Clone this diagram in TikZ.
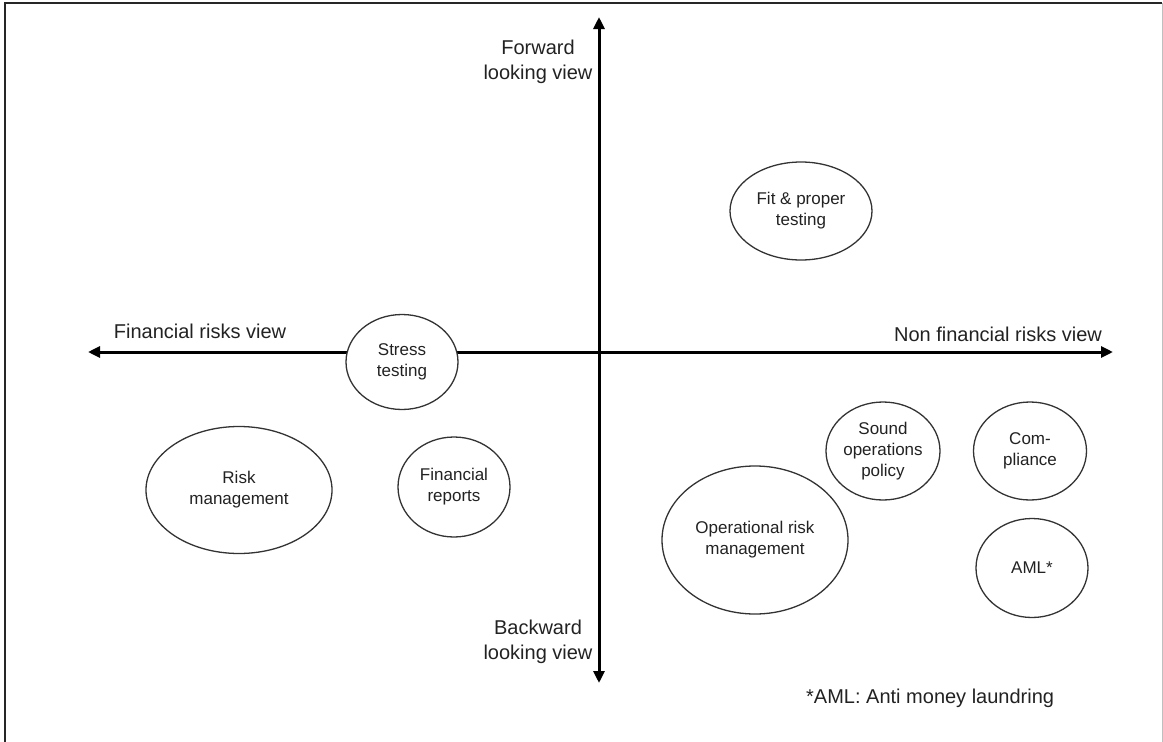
\documentclass[tikz,border=0pt]{standalone}
\usepackage{fontspec}
\setmainfont{Liberation Sans}
\usetikzlibrary{shapes.geometric,arrows.meta}

\definecolor{ink}{HTML}{222222}
\definecolor{rim}{HTML}{333333}

\tikzset{
  axisline/.style={line width=3pt, draw=black,
    {Triangle[length=12pt,width=11pt]}-{Triangle[length=12pt,width=11pt]}},
  axislabel/.style={text=ink, inner sep=0pt, align=center,
    font=\fontsize{20}{24.5}\selectfont},
  bubble/.style={ellipse, draw=rim, line width=1.3pt, fill=white,
    inner sep=0pt, align=center, text=ink,
    font=\fontsize{17}{21}\selectfont},
}

\begin{document}
\begin{tikzpicture}[x=1pt, y=-1pt]
  \useasboundingbox (0,0) rectangle (1163,742);

  % page frame
  \draw[line width=2pt, draw=black!85] (5,742) -- (5,3) -- (1162,3);
  \draw[line width=1pt, draw=black!25] (1162,3) -- (1162,742);

  % axis end points
  \coordinate (west)  at (88,352);
  \coordinate (east)  at (1113,352);
  \coordinate (north) at (599,17);
  \coordinate (south) at (599,683);

  % the two axes
  \draw[axisline] (west) -- (east);
  \draw[axisline] (south) -- (north);

  % axis labels
  \node[axislabel] (fwd) at (538,62) {Forward\\looking view};
  \node[axislabel] (bwd) at (538,642) {Backward\\looking view};
  \node[axislabel, anchor=base] (finview) at (200,338) {Financial risks view};
  \node[axislabel, anchor=base] (nonfinview) at (998,341) {Non financial risks view};

  % activities
  \node[bubble, minimum width=112pt, minimum height=95pt]  (stress) at (402,362) {Stress\\testing};
  \node[bubble, minimum width=142pt, minimum height=98pt]  (fit)    at (801,211) {Fit \& proper\\testing};
  \node[bubble, minimum width=186pt, minimum height=127pt] (riskm)  at (239,490) {Risk\\management};
  \node[bubble, minimum width=112pt, minimum height=100pt] (finrep) at (454,487) {Financial\\reports};
  \node[bubble, minimum width=186pt, minimum height=148pt] (oprisk) at (755,540) {Operational risk\\management};
  \node[bubble, minimum width=114pt, minimum height=98pt]  (sound)  at (883,451) {Sound\\operations\\policy};
  \node[bubble, minimum width=113pt, minimum height=98pt]  (compl)  at (1030,451) {Com-\\pliance};
  \node[bubble, minimum width=112pt, minimum height=99pt]  (aml)    at (1032,568) {AML*};

  % footnote
  \node[axislabel, anchor=base west] (note) at (806,703) {*AML:\ Anti money laundring};
\end{tikzpicture}
\end{document}
